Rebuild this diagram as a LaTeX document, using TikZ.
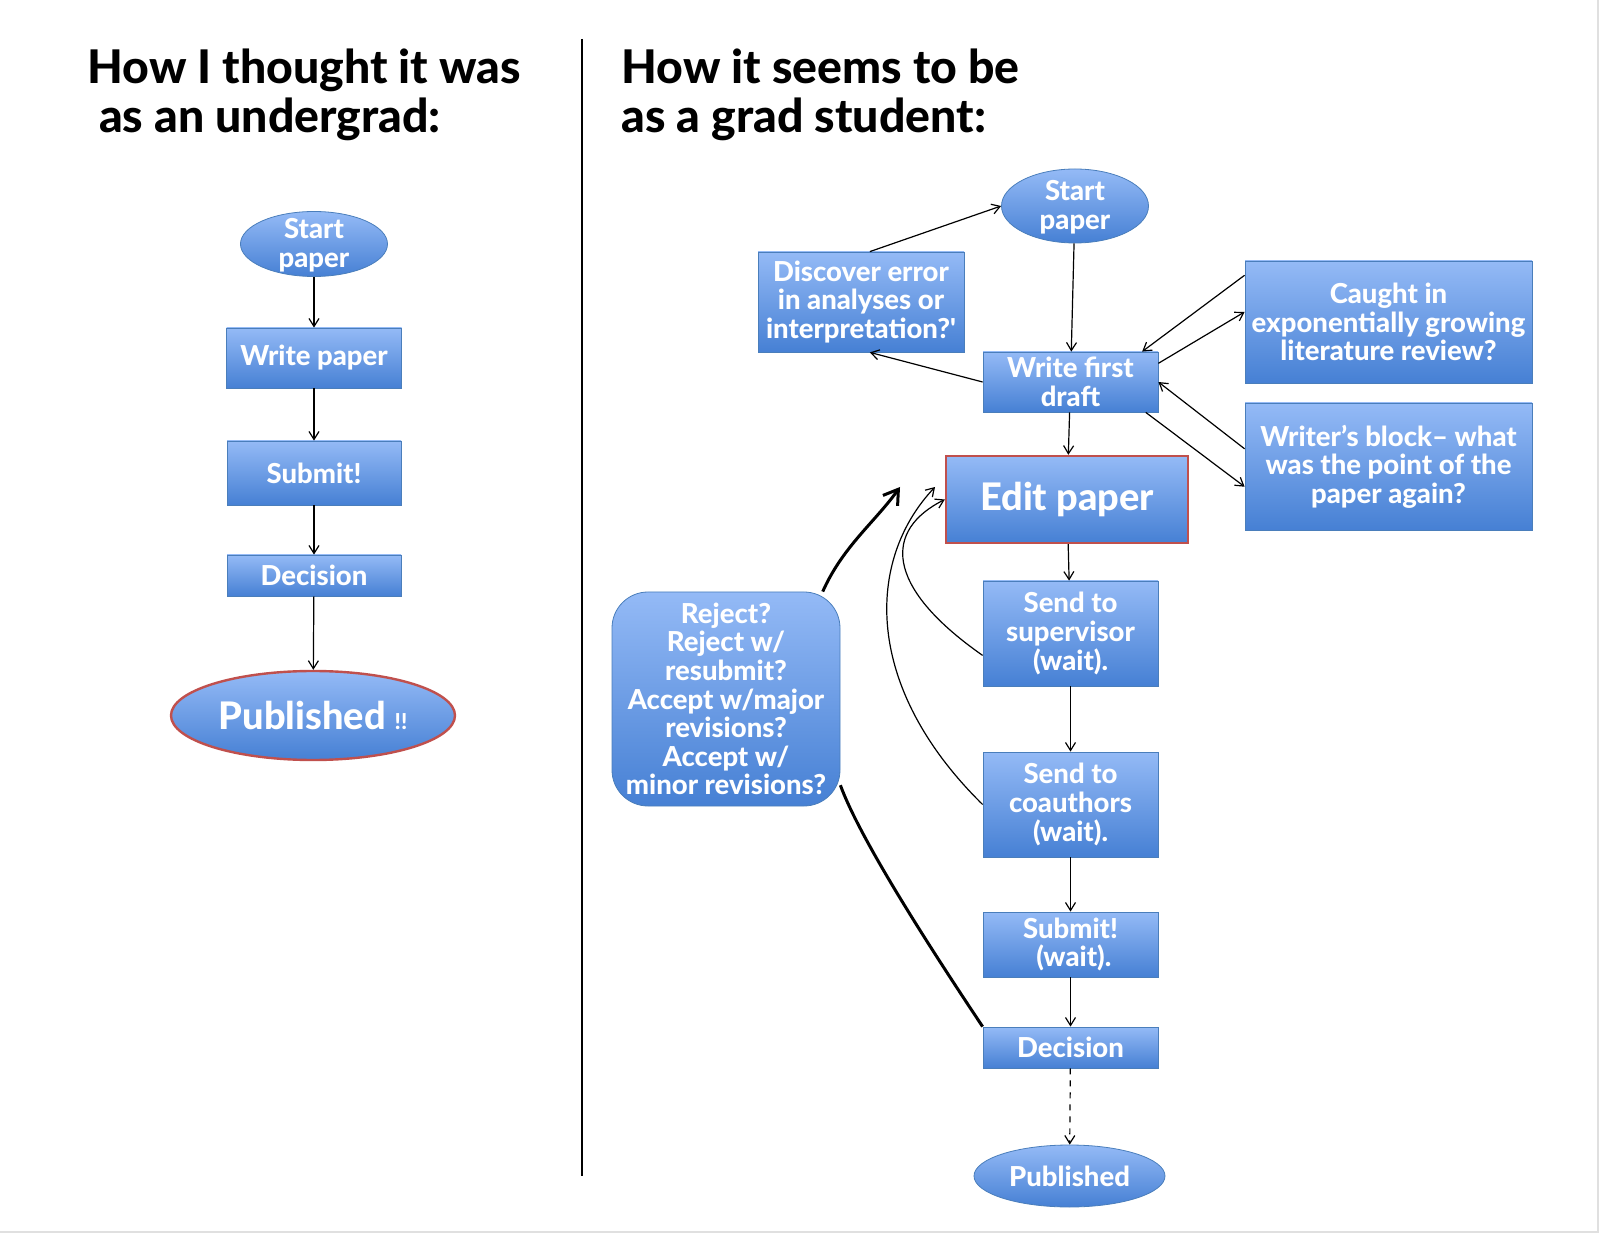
\documentclass[tikz,border=0pt]{standalone}
\usepackage{fontspec}
\setmainfont{Lato}
\IfFontExistsTF{Lato Heavy}{\newfontfamily\heavyface{Lato Heavy}}{\newcommand{\heavyface}{\bfseries}}
\usetikzlibrary{shapes.geometric,arrows.meta,positioning}
\definecolor{boxtop}{RGB}{148,186,246}
\definecolor{boxbot}{RGB}{70,128,212}
\definecolor{boxline}{RGB}{74,126,187}
\definecolor{hotline}{RGB}{192,80,77}
\tikzset{
  >={Straight Barb[length=4pt,width=5pt]},
}
% two lines that may overflow an ellipse
\newcommand{\squash}[1]{\smash{\raisebox{-5.2pt}{\begin{tabular}{@{}c@{}}#1\end{tabular}}}}

\begin{document}
\begin{tikzpicture}[x=0.5pt, y=-0.5pt,
  card/.style={draw=boxline, top color=boxtop, bottom color=boxbot, text=white, align=center,
    inner sep=2pt, font=\heavyface\fontsize{13.75}{14.3}\selectfont},
  pill/.style={card, ellipse},
  hot/.style={draw=hotline, line width=1.2pt},
  big/.style={font=\heavyface\fontsize{19}{20}\selectfont},
  headline/.style={anchor=base west, align=left, inner sep=0pt, font=\heavyface\fontsize{23.2}{24.5}\selectfont},
  link/.style={->, line width=0.6pt},
  heavy/.style={line width=1.5pt}
]
  \useasboundingbox (0,0) rectangle (1600,1234);
  \draw[black!12, line width=1.2pt] (0,1232) -- (1598,1232) -- (1598,0);

  % titles and divider
  \node[headline] (titleL) at (87,133) {How I thought it was\\\hspace*{0.25em}as an undergrad:};
  \node[headline] (titleR) at (621,133) {How it seems to be\\as a grad student:};
  \draw[line width=0.6pt] (582,39) -- (582,1176);

  % undergrad
  \node[pill, minimum width=73.5pt, minimum height=32.5pt] (startL) at (314,244) {\squash{Start\\paper}};
  \node[card, minimum width=87.5pt, minimum height=30pt] (writeL) at (314,358) {Write paper};
  \node[card, minimum width=87pt, minimum height=32pt] (submitL) at (314,473) {Submit!};
  \node[card, minimum width=87pt, minimum height=20.5pt] (decisionL) at (314,575.5) {Decision};
  \node[pill, hot, big, minimum width=142pt, minimum height=44.5pt] (publishedL) at (313,715.5)
    {Published {\fontsize{11}{12}\selectfont !!}};

  \draw[link] (startL) -- (writeL);
  \draw[link] (writeL) -- (submitL);
  \draw[link] (submitL) -- (decisionL);
  \draw[link] (decisionL) -- (publishedL);

  % grad student
  \node[pill, minimum width=73.5pt, minimum height=37pt] (startR) at (1075,206) {\squash{Start\\paper}};
  \node[card, minimum width=103pt, minimum height=50pt] (discover) at (861,302)
    {Discover error\\in analyses or\\interpretation?'};
  \node[card, minimum width=87.5pt, minimum height=30pt] (writeR) at (1070.5,382) {Write first\\draft};
  \node[card, minimum width=143.5pt, minimum height=61pt] (caught) at (1388.5,322)
    {Caught in\\exponentially growing\\literature review?};
  \node[card, minimum width=143.5pt, minimum height=63.5pt] (block) at (1388.5,466.5)
    {Writer’s block– what\\was the point of the\\paper again?};
  \node[card, hot, big, minimum width=121pt, minimum height=43.5pt] (edit) at (1067,499.5) {Edit paper};
  \node[card, minimum width=87.5pt, minimum height=52.5pt] (supervisor) at (1070.5,633.5)
    {Send to\\supervisor\\(wait).};
  \node[card, minimum width=87.5pt, minimum height=52.5pt] (coauthors) at (1070.5,804.5)
    {Send to\\coauthors\\(wait).};
  \node[card, minimum width=87.5pt, minimum height=32.5pt] (submitR) at (1070.5,944.5) {Submit!\\~(wait).};
  \node[card, minimum width=87.5pt, minimum height=20.5pt] (decisionR) at (1070.5,1047.5) {Decision};
  \node[pill, minimum width=95.5pt, minimum height=31pt] (publishedR) at (1069.5,1176) {Published};
  \node[card, rounded corners=18pt, minimum width=114pt, minimum height=107pt] (reject) at (726,699)
    {Reject?\\Reject w/\\resubmit?\\Accept w/major\\revisions?\\Accept w/\\minor revisions?};

  \coordinate (backA) at (900,487);
  \coordinate (backB) at (935,487);

  \draw[link] (startR) -- (writeR);
  \draw[link] (discover.80) -- (startR.west);
  \draw[link] (writeR.west) -- (discover.-80);
  \draw[link] (caught.162) -- (writeR.23);
  \draw[link] (writeR.12) -- (caught.176);
  \draw[link] (block.173) -- (writeR.east);
  \draw[link] (writeR.-22) -- (block.188);
  \draw[link] (writeR) -- (edit);
  \draw[link] (edit) -- (supervisor);
  \draw[link] (supervisor) -- (coauthors);
  \draw[link] (coauthors) -- (submitR);
  \draw[link] (submitR) -- (decisionR);
  \draw[link, dashed] (decisionR) -- (publishedR);
  \draw[link] (supervisor.194) .. controls +(-100,-70) and +(-60,30) .. (edit.west);
  \draw[link] (coauthors.west) .. controls +(-120,-118) and +(-69,73) .. (backB);
  \draw[heavy, -{Straight Barb[length=7pt,width=9pt]}] (reject.48) .. controls +(20,-45) and +(-25,35) .. (backA);
  \draw[heavy] (decisionR.north west) .. controls +(-50,-75) and +(20,55) .. (reject.-37);
\end{tikzpicture}
\end{document}
